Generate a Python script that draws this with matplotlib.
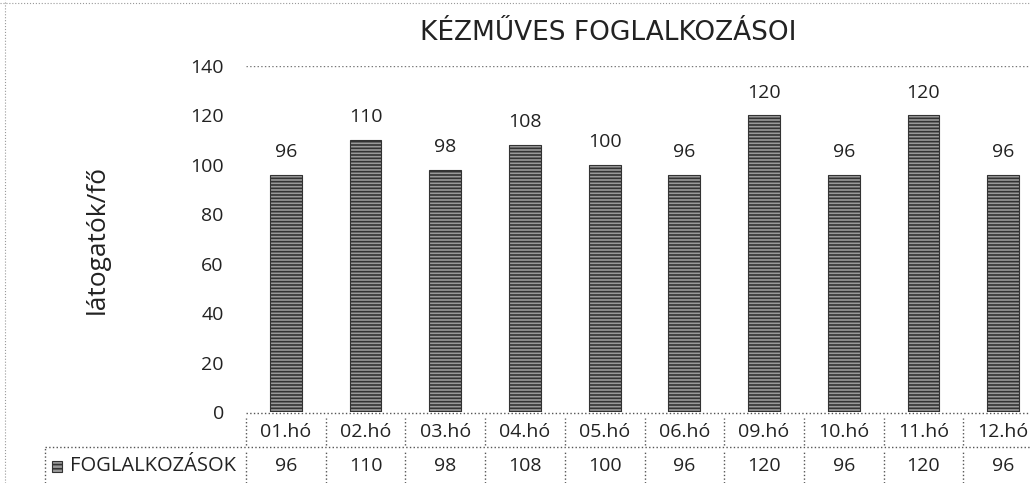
import matplotlib
matplotlib.use("Agg")
import matplotlib.pyplot as plt
from matplotlib.transforms import blended_transform_factory
from matplotlib.patches import Rectangle

categories = ["01.hó", "02.hó", "03.hó", "04.hó", "05.hó", "06.hó", "09.hó", "10.hó", "11.hó", "12.hó"]
values = [96, 110, 98, 108, 100, 96, 120, 96, 120, 96]
series_name = "FOGLALKOZÁSOK"
title = "KÉZMŰVES FOGLALKOZÁSOI"
ylabel = "látogatók/fő"
yticks = [0, 20, 40, 60, 80, 100, 120, 140]

plt.rcParams['font.family'] = ['Open Sans', 'DejaVu Sans']
plt.rcParams['hatch.linewidth'] = 1.2
plt.rcParams['hatch.color'] = '#222222'

W, H = 1030, 483
fig = plt.figure(figsize=(W / 100, H / 100), dpi=100)
ax = fig.add_axes([246 / W, (H - 412) / H, 797 / W, (412 - 66) / H])

x = list(range(len(categories)))
bars = ax.bar(x, values, width=0.4, facecolor='#9a9a9a', edgecolor='#333333',
              hatch='-----', linewidth=0.8)
for xi, v in zip(x, values):
    ax.annotate(str(v), (xi, v), xytext=(0, 10), textcoords='offset points',
                ha='center', va='bottom', fontsize=14, color='#222222')

ax.set_xlim(-0.5, len(categories) - 0.5)
ax.set_ylim(0, 140)
ax.set_yticks(yticks)
ax.tick_params(axis='y', length=0, pad=16, labelsize=14, labelcolor='#222222')
ax.set_xticks([])
for s in ax.spines.values():
    s.set_visible(False)
ax.axhline(140, color='#777777', linestyle=':', linewidth=1)
ax.set_ylabel(ylabel, fontsize=19, color='#222222')
ax.yaxis.set_label_coords((110 - 246) / 797, 0.5)

fig.text(608 / W, (H - 33) / H, title, ha='center', va='center', fontsize=19,
         color='#222222', family=['DejaVu Sans'])

# data table below the axis
tr = blended_transform_factory(ax.transData, fig.transFigure)
y_row1 = (H - 432) / H
y_row2 = (H - 466) / H
for xi, c, v in zip(x, categories, values):
    fig.text(xi, y_row1, c, transform=tr, ha='center', va='center', fontsize=14, color='#222222')
    fig.text(xi, y_row2, str(v), transform=tr, ha='center', va='center', fontsize=14, color='#222222')

line_kw = dict(color='#555555', linestyle=':', linewidth=1)
# top border (baseline)
ax.plot([-0.5, len(categories) - 0.5], [(H - 413) / H] * 2, transform=tr, clip_on=False, **line_kw)
# between rows
fig.add_artist(plt.Line2D([45 / W, 1.0], [(H - 447) / H] * 2, **line_kw))
# vertical separators
for i in range(len(categories)):
    xs = i - 0.5
    ax.plot([xs, xs], [(H - 445) / H, (H - 418) / H], transform=tr, clip_on=False, **line_kw)
    ax.plot([xs, xs], [0, (H - 450) / H], transform=tr, clip_on=False, **line_kw)
fig.add_artist(plt.Line2D([45 / W, 45 / W], [0, (H - 447) / H], **line_kw))

# legend key in table
fig.add_artist(Rectangle((52 / W, (H - 472) / H), 10 / W, 11 / H, transform=fig.transFigure,
                         facecolor='#9a9a9a', edgecolor='#333333', hatch='----', linewidth=0.8))
fig.text(236 / W, y_row2, series_name, ha='right', va='center', fontsize=14.5, color='#222222')

# scan border artifacts
fig.add_artist(plt.Line2D([0, 1], [(H - 3) / H] * 2, color='#999999', linestyle=':', linewidth=0.8))
fig.add_artist(plt.Line2D([5 / W, 5 / W], [0, 1], color='#999999', linestyle=':', linewidth=0.8))

fig.savefig("out.png", dpi=100)
